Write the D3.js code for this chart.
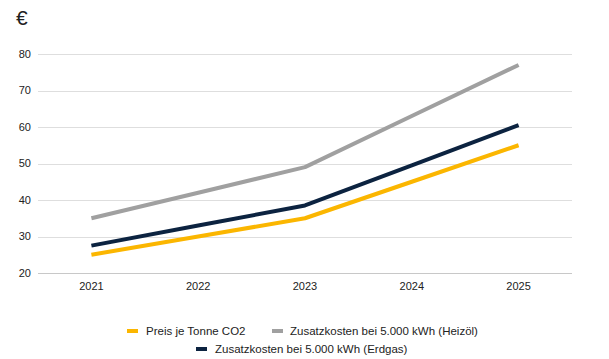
<!DOCTYPE html>
<html><head><meta charset="utf-8">
<script src="https://cdn.jsdelivr.net/npm/d3@7"></script>
<style>body{margin:0;background:#fff}svg{display:block}text{font-family:"Liberation Sans",Arial,sans-serif}</style>
</head><body><svg id="c" width="609" height="359"></svg>
<script>
const years = ["2021","2022","2023","2024","2025"];
const preisCO2 = [25, 30, 35, 45, 55];
const heizoel = [35, 42, 49, 63, 77];
const erdgas = [27.5, 33, 38.5, 49.5, 60.5];
const yTicks = [20, 30, 40, 50, 60, 70, 80];
const seriesNames = ["Preis je Tonne CO2", "Zusatzkosten bei 5.000 kWh (Heizöl)", "Zusatzkosten bei 5.000 kWh (Erdgas)"];
const colors = ["#fbb600", "#a0a0a0", "#0c2340"];

const series = [
  {name: seriesNames[0], values: preisCO2, color: colors[0]},
  {name: seriesNames[1], values: heizoel, color: colors[1]},
  {name: seriesNames[2], values: erdgas, color: colors[2]}
];

const svg = d3.select("#c");
const x = d3.scaleBand().domain(years).range([38, 572]);
const y = d3.scaleLinear().domain([20, 80]).range([273, 54]);

// gridlines
svg.append("g").selectAll("line").data(yTicks).join("line")
  .attr("x1", 38).attr("x2", 572)
  .attr("y1", d => Math.round(y(d)) + 0.5).attr("y2", d => Math.round(y(d)) + 0.5)
  .attr("stroke", d => d === 20 ? "#c8c8c8" : "#dedede").attr("stroke-width", 1);

// y labels
svg.append("g").selectAll("text").data(yTicks).join("text")
  .attr("x", 31).attr("y", d => y(d)).attr("dy", "0.35em")
  .attr("text-anchor", "end").attr("font-size", 11).attr("fill", "#222")
  .text(d => d);

// x labels
svg.append("g").selectAll("text").data(years).join("text")
  .attr("x", d => x(d) + x.bandwidth() / 2).attr("y", 290)
  .attr("text-anchor", "middle").attr("font-size", 11).attr("fill", "#222")
  .text(d => d);

// euro
svg.append("text").attr("x", 16).attr("y", 25).attr("font-size", 21).attr("fill", "#222").text("€");

const line = d3.line().x((d, i) => x(years[i]) + x.bandwidth() / 2).y(d => y(d));
svg.append("g").selectAll("path").data(series).join("path")
  .attr("d", d => line(d.values)).attr("fill", "none")
  .attr("stroke", d => d.color).attr("stroke-width", 4).attr("stroke-linejoin", "round");

// legend
const legendPos = [
  {sx: 127, tx: 146, y: 331},
  {sx: 272, tx: 290, y: 331},
  {sx: 196, tx: 215, y: 349}
];
const lg = svg.append("g").selectAll("g").data(series).join("g");
lg.append("rect").attr("x", (d, i) => legendPos[i].sx).attr("y", (d, i) => legendPos[i].y - 2)
  .attr("width", 11).attr("height", 4).attr("fill", d => d.color);
lg.append("text").attr("x", (d, i) => legendPos[i].tx).attr("y", (d, i) => legendPos[i].y)
  .attr("dy", "0.35em").attr("font-size", 11.5).attr("fill", "#222").text(d => d.name);
</script></body></html>
